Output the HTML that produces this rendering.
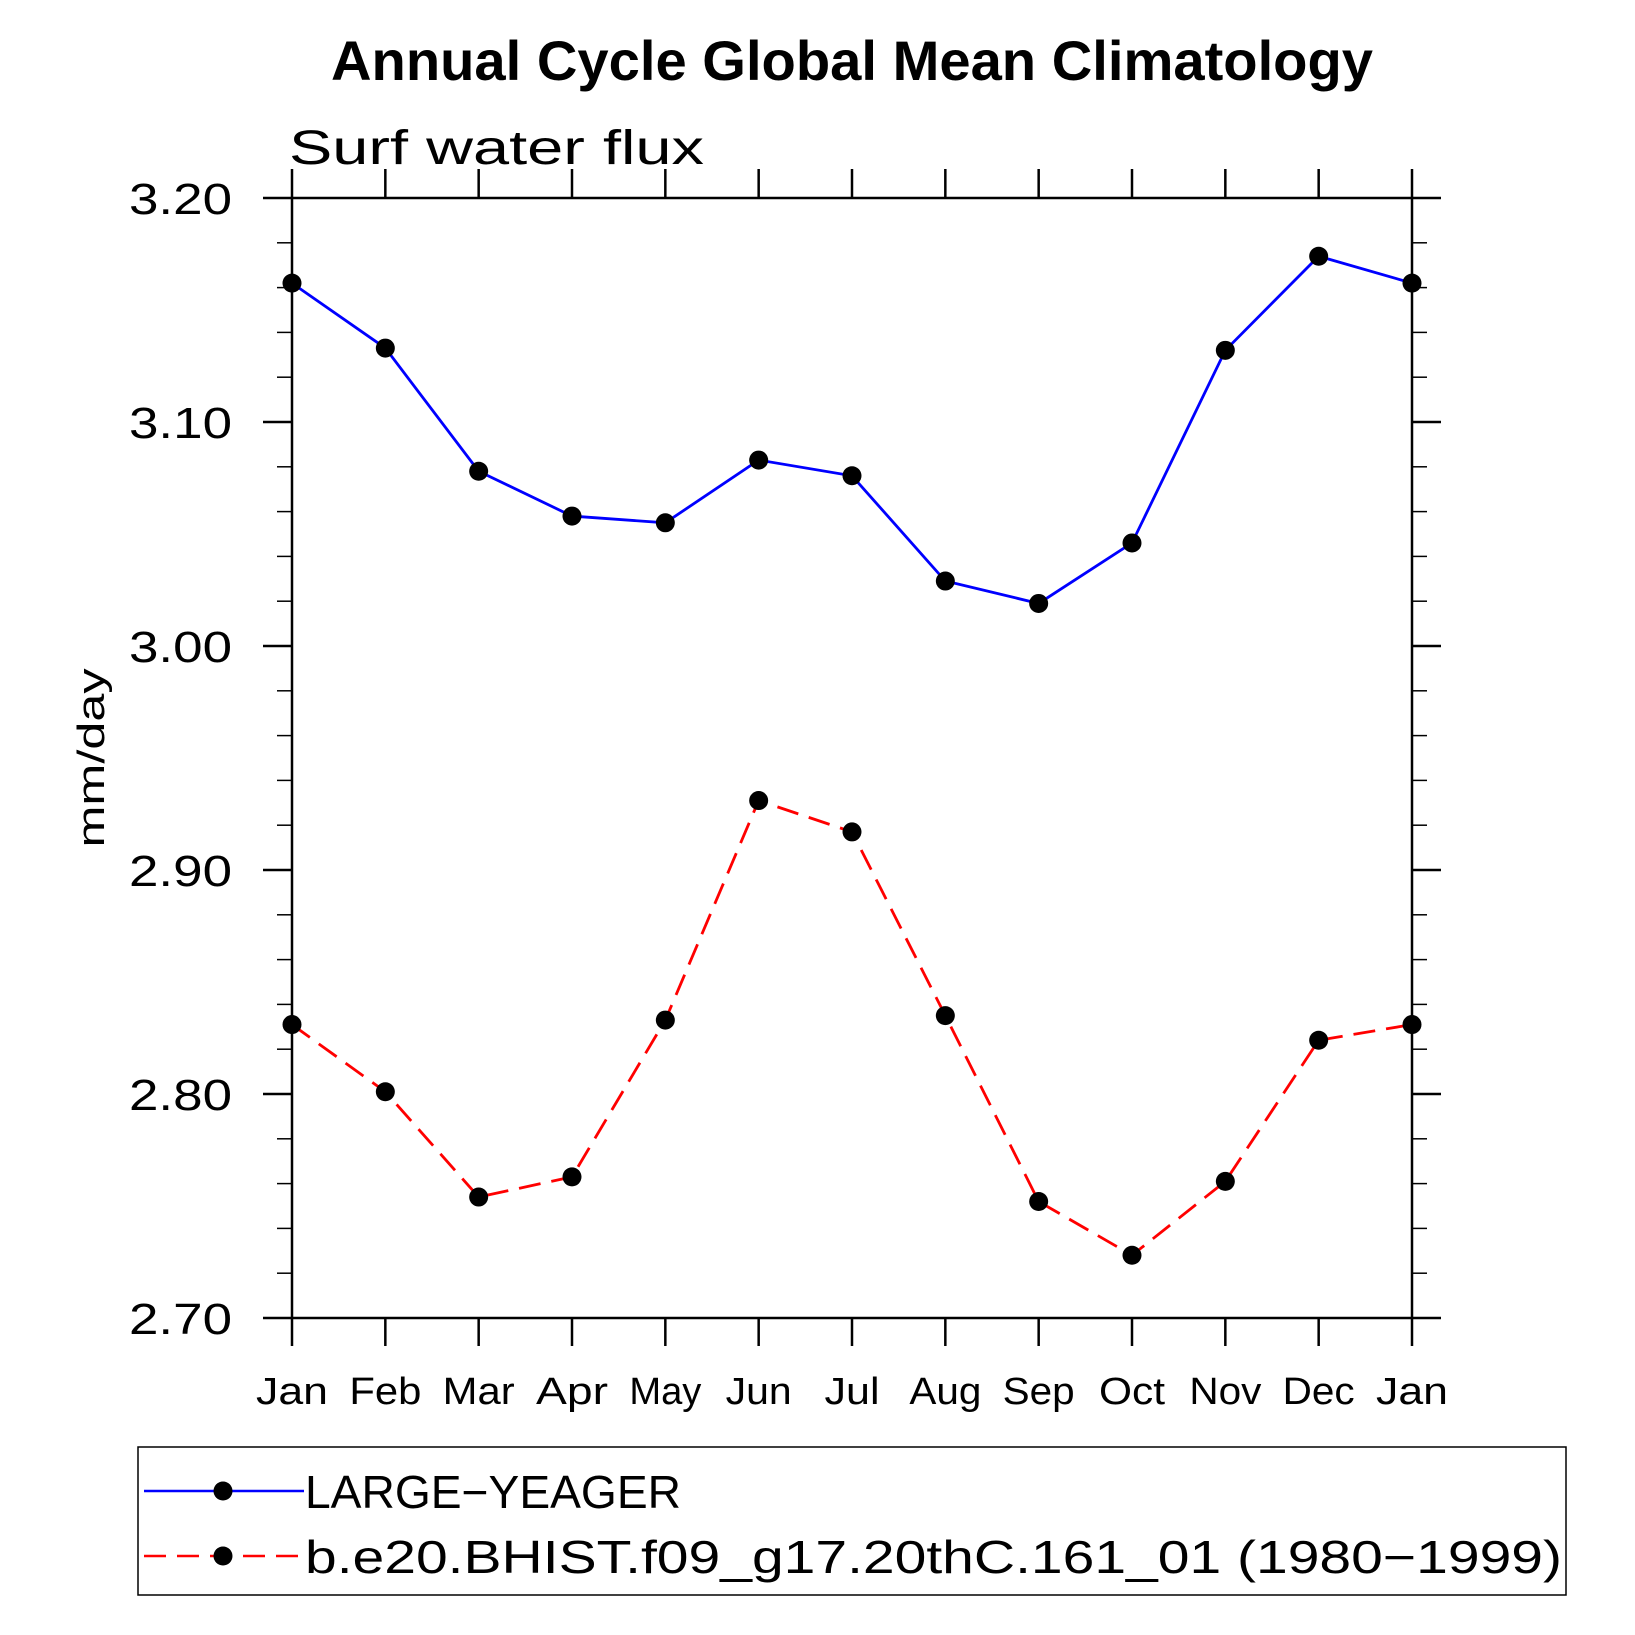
<!DOCTYPE html>
<html><head><meta charset="utf-8"><style>
html,body{margin:0;padding:0;background:#fff}
svg{display:block}
text{font-family:"Liberation Sans","DejaVu Sans",sans-serif}
</style></head><body>
<svg id="chart" width="1635" height="1635" viewBox="0 0 1635 1635" xmlns="http://www.w3.org/2000/svg">
<text x="331" y="80" font-size="56" font-weight="bold" textLength="1042" lengthAdjust="spacingAndGlyphs">Annual Cycle Global Mean Climatology</text>
<text x="289" y="164" font-size="48" textLength="415" lengthAdjust="spacingAndGlyphs">Surf water flux</text>
<text transform="translate(104,758) rotate(-90)" text-anchor="middle" font-size="38" textLength="179" lengthAdjust="spacingAndGlyphs">mm/day</text>
<g id="axes"></g>
<g id="series"></g>
<rect x="138" y="1447" width="1428" height="148" fill="none" stroke="#000" stroke-width="1.5"/>
<g id="legend"></g>
</svg>
<script>
const months = ["Jan","Feb","Mar","Apr","May","Jun","Jul","Aug","Sep","Oct","Nov","Dec","Jan"];
const largeYeager = [3.162,3.133,3.078,3.058,3.055,3.083,3.076,3.029,3.019,3.046,3.132,3.174,3.162];
const bhist = [2.831,2.801,2.754,2.763,2.833,2.931,2.917,2.835,2.752,2.728,2.761,2.824,2.831];
const yTicks = [2.70,2.80,2.90,3.00,3.10,3.20];
const seriesNames = ["LARGE\u2212YEAGER","b.e20.BHIST.f09_g17.20thC.161_01 (1980\u22121999)"];

const NS="http://www.w3.org/2000/svg";
const L=292,R=1412,T=198,B=1318,Y0=2.70,Y1=3.20;
const xs=i=>L+(R-L)*i/(months.length-1);
const ys=v=>B-(B-T)*(v-Y0)/(Y1-Y0);
function mk(tag,attrs,parent){const e=document.createElementNS(NS,tag);for(const k in attrs)e.setAttribute(k,attrs[k]);parent.appendChild(e);return e;}
const ax=document.getElementById('axes');
let f=mk('rect',{x:L,y:T,width:R-L,height:B-T,fill:'none',stroke:'#000','stroke-width':2.5},ax);


months.forEach((m,i)=>{
  const x=xs(i);
  let t=mk('line',{x1:x,x2:x,y1:B,y2:B+28,stroke:'#000','stroke-width':2.5},ax);
  
  
  let t2=mk('line',{x1:x,x2:x,y1:T,y2:T-29,stroke:'#000','stroke-width':2.5},ax);
  
  
  const w=m==="Jul"?55:(m==="Jun"||m==="Oct"?66:72);
  let lb=mk('text',{x:x,y:1404,'text-anchor':'middle','font-size':38,textLength:w,lengthAdjust:'spacingAndGlyphs'},ax);
  lb.textContent=m;
  
  
});
for(let k=0;k<=25;k++){
  const v=Y0+k*0.02,y=ys(v),maj=k%5===0,len=maj?29:15;
  let a=mk('line',{x1:L-len,x2:L,y1:y,y2:y,stroke:'#000','stroke-width':maj?2.5:1.5},ax);
  
  
  let b=mk('line',{x1:R,x2:R+len,y1:y,y2:y,stroke:'#000','stroke-width':maj?2.5:1.5},ax);
  
  
}
yTicks.forEach(v=>{
  let lb=mk('text',{x:232,y:ys(v)+16,'text-anchor':'end','font-size':44,textLength:103,lengthAdjust:'spacingAndGlyphs'},ax);
  lb.textContent=v.toFixed(2);
  
  
});
const sg=document.getElementById('series');
function drawSeries(vals,color,dash,name){
  const pts=vals.map((v,i)=>xs(i)+','+ys(v)).join(' ');
  let p=mk('polyline',{points:pts,fill:'none',stroke:color,'stroke-width':2.8,'stroke-dasharray':dash},sg);
  
  
  vals.forEach((v,i)=>{
    let c=mk('circle',{cx:xs(i),cy:ys(v),r:9.5,fill:'#000'},sg);
    
    
  });
}
drawSeries(largeYeager,'#0000ff','none','large-yeager');
drawSeries(bhist,'#ff0000','22,11','bhist');
const lg=document.getElementById('legend');
const legLens=[376,1257];
[[1491,'#0000ff','none'],[1556,'#ff0000','22,11']].forEach((r,i)=>{
  let l=mk('line',{x1:144,x2:304,y1:r[0],y2:r[0],stroke:r[1],'stroke-width':2.5,'stroke-dasharray':r[2]},lg);
  
  
  let c=mk('circle',{cx:223,cy:r[0],r:9.5,fill:'#000'},lg);
  
  
  let t=mk('text',{x:305,y:r[0]+17,'font-size':46,textLength:legLens[i],lengthAdjust:'spacingAndGlyphs'},lg);
  t.textContent=seriesNames[i];
  
  
});
</script>
</body></html>
